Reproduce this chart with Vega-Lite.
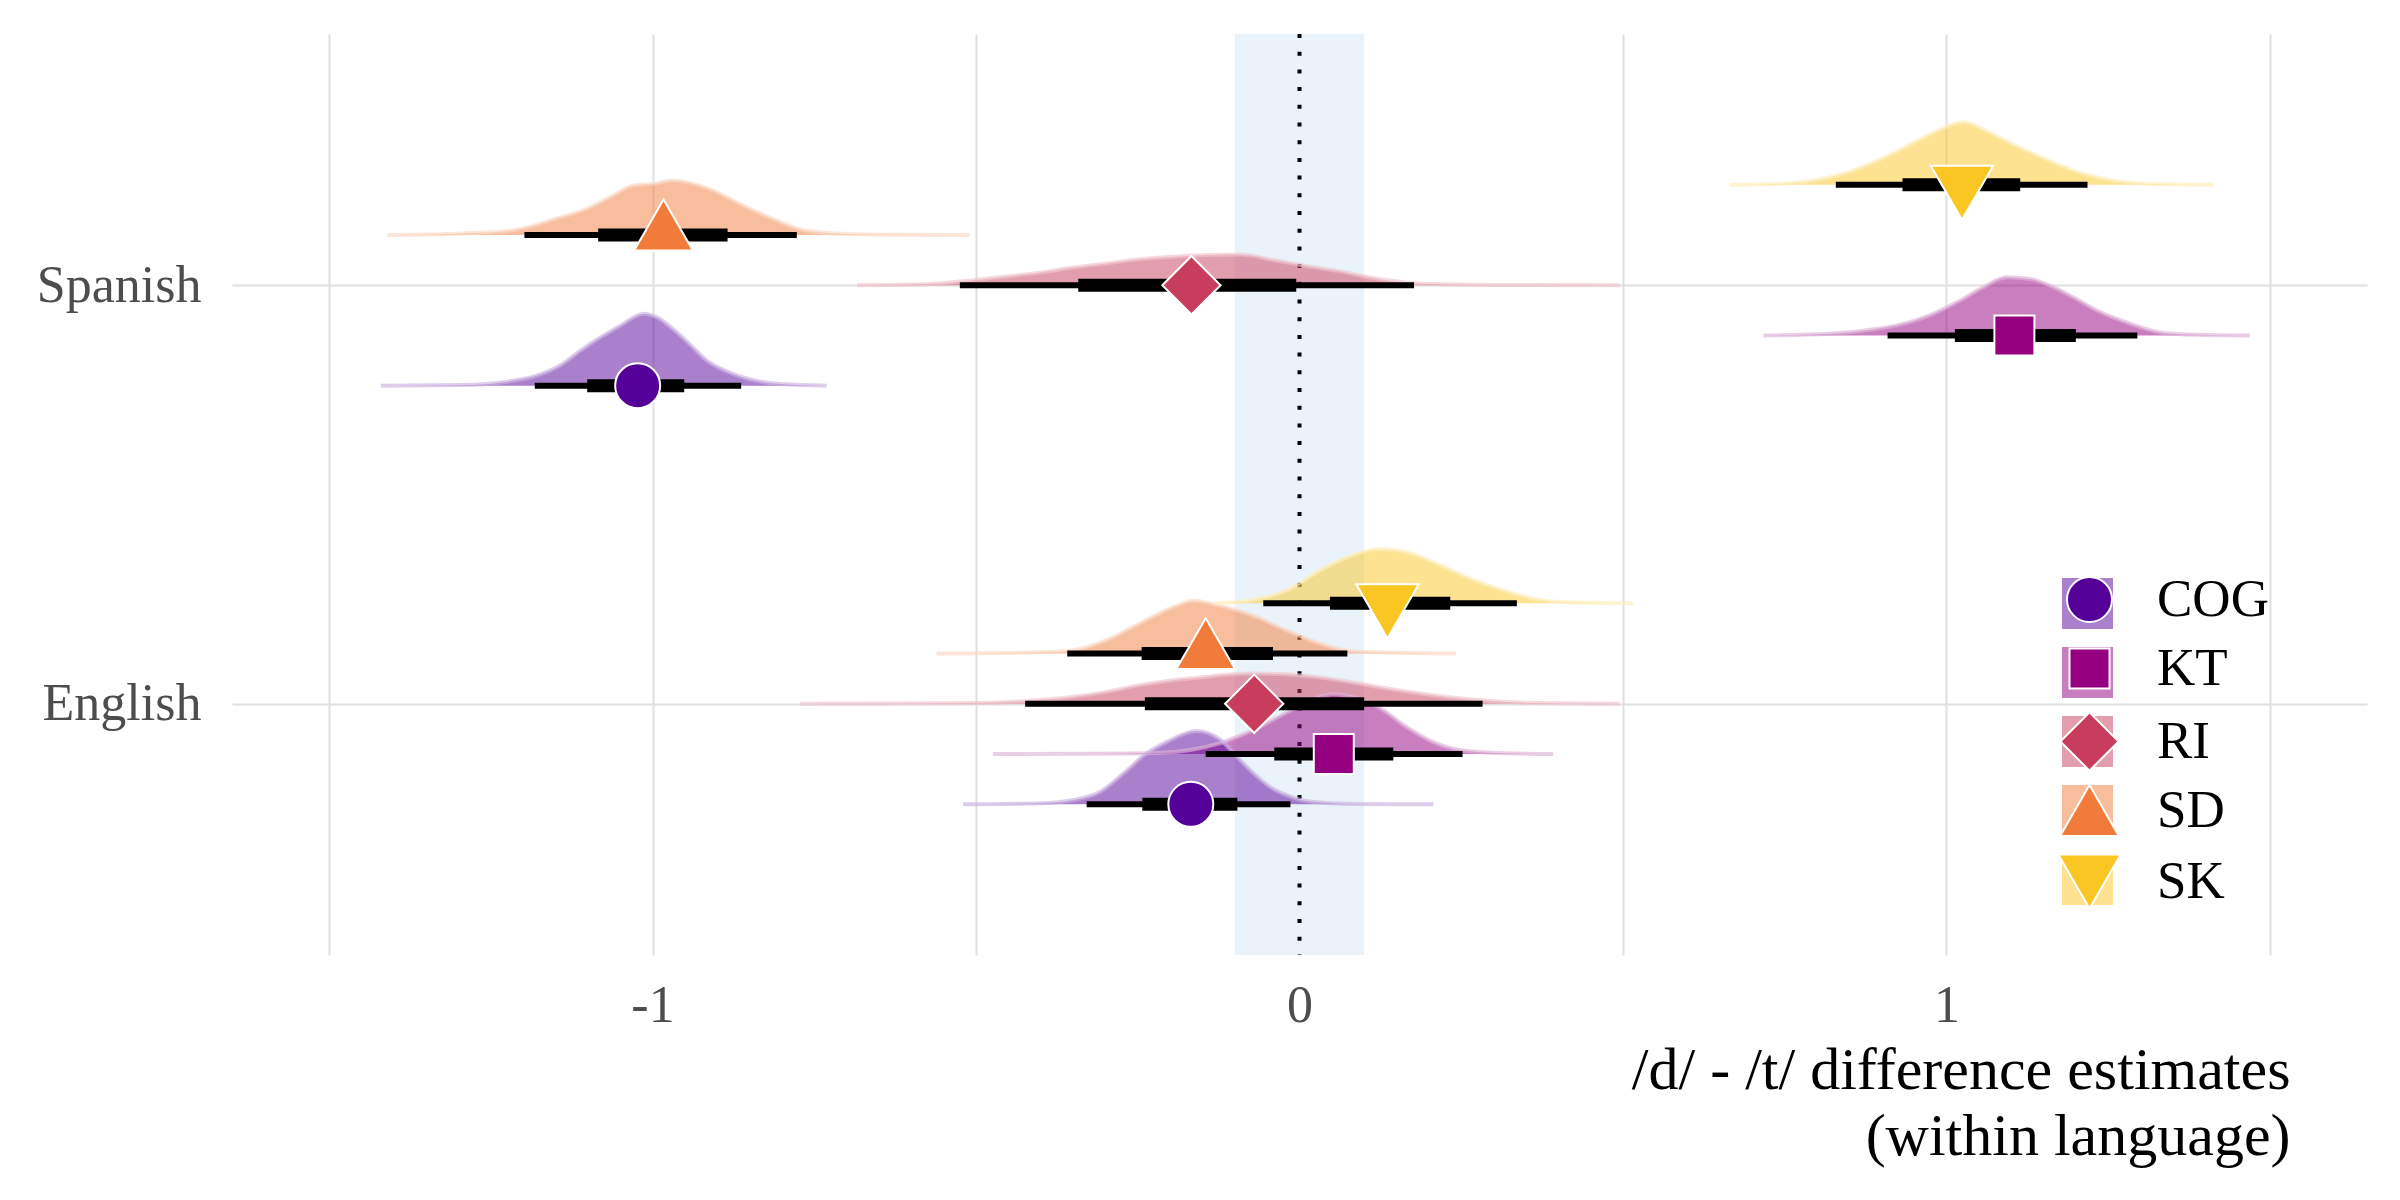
{
  "$schema": "https://vega.github.io/schema/vega-lite/v6.json",
  "width": 2135,
  "height": 921,
  "autosize": "none",
  "padding": {"left": 232, "top": 34, "right": 33, "bottom": 245},
  "background": "white",
  "config": {
    "view": {"stroke": null},
    "axis": {"domain": false, "ticks": false, "grid": true, "gridColor": "#e0e0e0", "gridWidth": 2, "labelFont": "Liberation Serif", "labelFontSize": 52, "labelColor": "#4d4d4d", "labelOverlap": false}
  },
  "datasets": {
    "dens": [
      {"language":"Spanish","group":"SD","x":-1.41,"h":0},{"language":"Spanish","group":"SD","x":-1.318,"h":0.0024},{"language":"Spanish","group":"SD","x":-1.231,"h":0.008},{"language":"Spanish","group":"SD","x":-1.189,"h":0.02},{"language":"Spanish","group":"SD","x":-1.143,"h":0.042},{"language":"Spanish","group":"SD","x":-1.102,"h":0.062},{"language":"Spanish","group":"SD","x":-1.061,"h":0.094},{"language":"Spanish","group":"SD","x":-1.03,"h":0.118},{"language":"Spanish","group":"SD","x":-0.999,"h":0.122},{"language":"Spanish","group":"SD","x":-0.968,"h":0.13},{"language":"Spanish","group":"SD","x":-0.937,"h":0.122},{"language":"Spanish","group":"SD","x":-0.906,"h":0.106},{"language":"Spanish","group":"SD","x":-0.865,"h":0.074},{"language":"Spanish","group":"SD","x":-0.813,"h":0.038},{"language":"Spanish","group":"SD","x":-0.762,"h":0.01},{"language":"Spanish","group":"SD","x":-0.7,"h":0.0024},{"language":"Spanish","group":"SD","x":-0.617,"h":0.0005},{"language":"Spanish","group":"SD","x":-0.51,"h":0},
      {"language":"Spanish","group":"COG","x":-1.42,"h":0},{"language":"Spanish","group":"COG","x":-1.292,"h":0.0016},{"language":"Spanish","group":"COG","x":-1.225,"h":0.0095},{"language":"Spanish","group":"COG","x":-1.179,"h":0.024},{"language":"Spanish","group":"COG","x":-1.143,"h":0.048},{"language":"Spanish","group":"COG","x":-1.112,"h":0.083},{"language":"Spanish","group":"COG","x":-1.081,"h":0.115},{"language":"Spanish","group":"COG","x":-1.05,"h":0.143},{"language":"Spanish","group":"COG","x":-1.024,"h":0.167},{"language":"Spanish","group":"COG","x":-1.014,"h":0.172},{"language":"Spanish","group":"COG","x":-0.993,"h":0.163},{"language":"Spanish","group":"COG","x":-0.968,"h":0.135},{"language":"Spanish","group":"COG","x":-0.942,"h":0.098},{"language":"Spanish","group":"COG","x":-0.916,"h":0.06},{"language":"Spanish","group":"COG","x":-0.885,"h":0.034},{"language":"Spanish","group":"COG","x":-0.844,"h":0.013},{"language":"Spanish","group":"COG","x":-0.802,"h":0.004},{"language":"Spanish","group":"COG","x":-0.731,"h":0},
      {"language":"Spanish","group":"RI","x":-0.684,"h":0},{"language":"Spanish","group":"RI","x":-0.62,"h":0.001},{"language":"Spanish","group":"RI","x":-0.556,"h":0.004},{"language":"Spanish","group":"RI","x":-0.504,"h":0.012},{"language":"Spanish","group":"RI","x":-0.453,"h":0.021},{"language":"Spanish","group":"RI","x":-0.401,"h":0.03},{"language":"Spanish","group":"RI","x":-0.35,"h":0.042},{"language":"Spanish","group":"RI","x":-0.298,"h":0.052},{"language":"Spanish","group":"RI","x":-0.247,"h":0.062},{"language":"Spanish","group":"RI","x":-0.195,"h":0.068},{"language":"Spanish","group":"RI","x":-0.143,"h":0.072},{"language":"Spanish","group":"RI","x":-0.092,"h":0.073},{"language":"Spanish","group":"RI","x":-0.04,"h":0.06},{"language":"Spanish","group":"RI","x":0.011,"h":0.046},{"language":"Spanish","group":"RI","x":0.063,"h":0.033},{"language":"Spanish","group":"RI","x":0.114,"h":0.017},{"language":"Spanish","group":"RI","x":0.166,"h":0.006},{"language":"Spanish","group":"RI","x":0.217,"h":0.0024},{"language":"Spanish","group":"RI","x":0.32,"h":0.0003},{"language":"Spanish","group":"RI","x":0.495,"h":0},
      {"language":"Spanish","group":"SK","x":0.665,"h":0},{"language":"Spanish","group":"SK","x":0.743,"h":0.0024},{"language":"Spanish","group":"SK","x":0.794,"h":0.01},{"language":"Spanish","group":"SK","x":0.846,"h":0.029},{"language":"Spanish","group":"SK","x":0.897,"h":0.06},{"language":"Spanish","group":"SK","x":0.949,"h":0.1},{"language":"Spanish","group":"SK","x":0.985,"h":0.128},{"language":"Spanish","group":"SK","x":1.026,"h":0.149},{"language":"Spanish","group":"SK","x":1.067,"h":0.124},{"language":"Spanish","group":"SK","x":1.103,"h":0.096},{"language":"Spanish","group":"SK","x":1.155,"h":0.06},{"language":"Spanish","group":"SK","x":1.206,"h":0.029},{"language":"Spanish","group":"SK","x":1.258,"h":0.01},{"language":"Spanish","group":"SK","x":1.309,"h":0.0024},{"language":"Spanish","group":"SK","x":1.412,"h":0},
      {"language":"Spanish","group":"KT","x":0.717,"h":0},{"language":"Spanish","group":"KT","x":0.82,"h":0.004},{"language":"Spanish","group":"KT","x":0.882,"h":0.0135},{"language":"Spanish","group":"KT","x":0.923,"h":0.024},{"language":"Spanish","group":"KT","x":0.974,"h":0.048},{"language":"Spanish","group":"KT","x":1.016,"h":0.079},{"language":"Spanish","group":"KT","x":1.057,"h":0.115},{"language":"Spanish","group":"KT","x":1.093,"h":0.139},{"language":"Spanish","group":"KT","x":1.129,"h":0.135},{"language":"Spanish","group":"KT","x":1.16,"h":0.119},{"language":"Spanish","group":"KT","x":1.196,"h":0.091},{"language":"Spanish","group":"KT","x":1.232,"h":0.06},{"language":"Spanish","group":"KT","x":1.284,"h":0.028},{"language":"Spanish","group":"KT","x":1.335,"h":0.006},{"language":"Spanish","group":"KT","x":1.387,"h":0.0016},{"language":"Spanish","group":"KT","x":1.469,"h":0},
      {"language":"English","group":"SD","x":-0.561,"h":0},{"language":"English","group":"SD","x":-0.401,"h":0.003},{"language":"English","group":"SD","x":-0.35,"h":0.008},{"language":"English","group":"SD","x":-0.298,"h":0.032},{"language":"English","group":"SD","x":-0.247,"h":0.072},{"language":"English","group":"SD","x":-0.195,"h":0.111},{"language":"English","group":"SD","x":-0.163,"h":0.126},{"language":"English","group":"SD","x":-0.123,"h":0.114},{"language":"English","group":"SD","x":-0.072,"h":0.091},{"language":"English","group":"SD","x":-0.019,"h":0.055},{"language":"English","group":"SD","x":0.032,"h":0.024},{"language":"English","group":"SD","x":0.083,"h":0.0055},{"language":"English","group":"SD","x":0.154,"h":0.0017},{"language":"English","group":"SD","x":0.242,"h":0},
      {"language":"English","group":"RI","x":-0.772,"h":0},{"language":"English","group":"RI","x":-0.505,"h":0.0017},{"language":"English","group":"RI","x":-0.427,"h":0.0064},{"language":"English","group":"RI","x":-0.35,"h":0.0167},{"language":"English","group":"RI","x":-0.298,"h":0.0286},{"language":"English","group":"RI","x":-0.247,"h":0.0446},{"language":"English","group":"RI","x":-0.196,"h":0.0565},{"language":"English","group":"RI","x":-0.143,"h":0.0644},{"language":"English","group":"RI","x":-0.123,"h":0.0684},{"language":"English","group":"RI","x":-0.071,"h":0.0722},{"language":"English","group":"RI","x":-0.02,"h":0.0708},{"language":"English","group":"RI","x":0.032,"h":0.0627},{"language":"English","group":"RI","x":0.083,"h":0.0508},{"language":"English","group":"RI","x":0.135,"h":0.0365},{"language":"English","group":"RI","x":0.186,"h":0.0246},{"language":"English","group":"RI","x":0.238,"h":0.0143},{"language":"English","group":"RI","x":0.289,"h":0.0072},{"language":"English","group":"RI","x":0.367,"h":0.0017},{"language":"English","group":"RI","x":0.495,"h":0},
      {"language":"English","group":"KT","x":-0.474,"h":0},{"language":"English","group":"KT","x":-0.308,"h":0.0007},{"language":"English","group":"KT","x":-0.222,"h":0.0024},{"language":"English","group":"KT","x":-0.169,"h":0.0095},{"language":"English","group":"KT","x":-0.123,"h":0.026},{"language":"English","group":"KT","x":-0.072,"h":0.057},{"language":"English","group":"KT","x":-0.019,"h":0.1},{"language":"English","group":"KT","x":0.021,"h":0.131},{"language":"English","group":"KT","x":0.052,"h":0.143},{"language":"English","group":"KT","x":0.083,"h":0.136},{"language":"English","group":"KT","x":0.124,"h":0.11},{"language":"English","group":"KT","x":0.166,"h":0.064},{"language":"English","group":"KT","x":0.206,"h":0.029},{"language":"English","group":"KT","x":0.248,"h":0.0095},{"language":"English","group":"KT","x":0.315,"h":0.0017},{"language":"English","group":"KT","x":0.392,"h":0},
      {"language":"English","group":"COG","x":-0.52,"h":0},{"language":"English","group":"COG","x":-0.401,"h":0.0024},{"language":"English","group":"COG","x":-0.35,"h":0.0103},{"language":"English","group":"COG","x":-0.308,"h":0.03},{"language":"English","group":"COG","x":-0.272,"h":0.074},{"language":"English","group":"COG","x":-0.236,"h":0.122},{"language":"English","group":"COG","x":-0.205,"h":0.149},{"language":"English","group":"COG","x":-0.159,"h":0.175},{"language":"English","group":"COG","x":-0.123,"h":0.155},{"language":"English","group":"COG","x":-0.097,"h":0.114},{"language":"English","group":"COG","x":-0.071,"h":0.074},{"language":"English","group":"COG","x":-0.046,"h":0.042},{"language":"English","group":"COG","x":-0.02,"h":0.022},{"language":"English","group":"COG","x":0.016,"h":0.0064},{"language":"English","group":"COG","x":0.083,"h":0.0007},{"language":"English","group":"COG","x":0.207,"h":0},
      {"language":"English","group":"SK","x":-0.131,"h":0},{"language":"English","group":"SK","x":-0.071,"h":0.0088},{"language":"English","group":"SK","x":-0.02,"h":0.031},{"language":"English","group":"SK","x":0.032,"h":0.079},{"language":"English","group":"SK","x":0.073,"h":0.11},{"language":"English","group":"SK","x":0.124,"h":0.13},{"language":"English","group":"SK","x":0.166,"h":0.122},{"language":"English","group":"SK","x":0.212,"h":0.095},{"language":"English","group":"SK","x":0.264,"h":0.059},{"language":"English","group":"SK","x":0.315,"h":0.031},{"language":"English","group":"SK","x":0.367,"h":0.0095},{"language":"English","group":"SK","x":0.418,"h":0.0024},{"language":"English","group":"SK","x":0.516,"h":0}
    ],
    "summ": [
      {"language":"Spanish","group":"COG","med":-1.023,"lo66":-1.101,"hi66":-0.951,"lo95":-1.182,"hi95":-0.863},
      {"language":"Spanish","group":"KT","med":1.105,"lo66":1.013,"hi66":1.2,"lo95":0.909,"hi95":1.295},
      {"language":"Spanish","group":"RI","med":-0.167,"lo66":-0.342,"hi66":-0.005,"lo95":-0.525,"hi95":0.177},
      {"language":"Spanish","group":"SD","med":-0.983,"lo66":-1.084,"hi66":-0.884,"lo95":-1.198,"hi95":-0.777},
      {"language":"Spanish","group":"SK","med":1.024,"lo66":0.932,"hi66":1.114,"lo95":0.829,"hi95":1.218},
      {"language":"English","group":"COG","med":-0.168,"lo66":-0.243,"hi66":-0.096,"lo95":-0.329,"hi95":-0.014},
      {"language":"English","group":"KT","med":0.053,"lo66":-0.039,"hi66":0.145,"lo95":-0.145,"hi95":0.252},
      {"language":"English","group":"RI","med":-0.07,"lo66":-0.239,"hi66":0.1,"lo95":-0.424,"hi95":0.283},
      {"language":"English","group":"SD","med":-0.145,"lo66":-0.244,"hi66":-0.041,"lo95":-0.359,"hi95":0.074},
      {"language":"English","group":"SK","med":0.136,"lo66":0.047,"hi66":0.233,"lo95":-0.056,"hi95":0.336}
    ],
    "rope": [{"lo": -0.1, "hi": 0.1, "ref": 0}]
  },
  "layer": [
    {
      "data": {"name": "rope"},
      "mark": {"type": "rect", "color": "#eaf3fa"},
      "encoding": {
        "x": {"field": "lo", "type": "quantitative", "scale": {"domain": [-1.65, 1.65], "nice": false, "zero": false},
              "axis": {"values": [-1.5,-1,-0.5,0,0.5,1,1.5], "labelExpr": "datum.value === -1 ? '-1' : datum.value === 0 ? '0' : datum.value === 1 ? '1' : ''", "title": ["/d/ - /t/ difference estimates", "(within language)"], "titleFont": "Liberation Serif", "titleFontSize": 60, "titleFontWeight": "normal", "titleColor": "black", "titleAlign": "right", "titleAnchor": "end", "titleX": 2058, "titleY": 133, "titleBaseline": "alphabetic", "titleLineHeight": 66, "labelPadding": 25, "grid": true}},
        "x2": {"field": "hi"}
      }
    },
    {
      "data": {"name": "rope"},
      "mark": {"type": "rule", "color": "black", "strokeWidth": 4, "strokeDash": [4, 13.7]},
      "encoding": {
        "x": {"field": "ref", "type": "quantitative"}
      }
    },
    {
      "data": {"name": "dens"},
      "transform": [
        {"calculate": "(datum.language === 'Spanish' ? 2 : 1) + (indexof(['COG','KT','RI','SD','SK'], datum.group) - 2) * 0.12", "as": "base"},
        {"calculate": "datum.base + datum.h", "as": "top"}
      ],
      "layer": [
        {
          "mark": {"type": "area", "opacity": 0.5, "interpolate": "monotone"},
          "encoding": {
            "x": {"field": "x", "type": "quantitative"},
            "y": {"field": "top", "type": "quantitative", "scale": {"domain": [0.4, 2.6], "nice": false, "zero": false},
                  "axis": {"values": [1, 2], "labelExpr": "datum.value === 2 ? 'Spanish' : 'English'", "title": null, "labelPadding": 31, "grid": true}},
            "y2": {"field": "base"},
            "color": {"field": "group", "type": "nominal",
                      "scale": {"range": ["#550099", "#94007f", "#c83d5b", "#f07b3a", "#f9c623"]},
                      "legend": {"orient": "none", "legendX": 1830, "legendY": 544, "title": null, "symbolType": "square", "symbolSize": 2601, "symbolOpacity": 0.5, "symbolStrokeWidth": 0, "labelExpr": "''", "labelFontSize": 1, "rowPadding": 18, "labelOffset": 35, "padding": 0, "gridAlign": "all"}},
            "detail": {"field": "language"}
          }
        },
        {
          "mark": {"type": "line", "strokeWidth": 4, "interpolate": "monotone", "strokeOpacity": 0.65},
          "encoding": {
            "x": {"field": "x", "type": "quantitative"},
            "y": {"field": "top", "type": "quantitative"},
            "stroke": {"field": "group", "type": "nominal", "scale": {"range": ["#ccb3e0", "#dfb3d9", "#eec5ce", "#fad7c4", "#fdeebd"]}, "legend": null},
            "detail": {"field": "language"}
          }
        }
      ]
    },
    {
      "data": {"name": "summ"},
      "transform": [
        {"calculate": "(datum.language === 'Spanish' ? 2 : 1) + (indexof(['COG','KT','RI','SD','SK'], datum.group) - 2) * 0.12", "as": "base"}
      ],
      "layer": [
        {
          "mark": {"type": "rule", "color": "black", "strokeWidth": 6, "strokeCap": "butt"},
          "encoding": {
            "x": {"field": "lo95", "type": "quantitative"},
            "x2": {"field": "hi95"},
            "y": {"field": "base", "type": "quantitative"}
          }
        },
        {
          "mark": {"type": "rule", "color": "black", "strokeWidth": 13, "strokeCap": "butt"},
          "encoding": {
            "x": {"field": "lo66", "type": "quantitative"},
            "x2": {"field": "hi66"},
            "y": {"field": "base", "type": "quantitative"}
          }
        },
        {
          "transform": [{"filter": "datum.group !== 'SD' && datum.group !== 'SK'"}],
          "mark": {"type": "point", "filled": true, "stroke": "white", "strokeWidth": 2, "opacity": 1},
          "encoding": {
            "x": {"field": "med", "type": "quantitative"},
            "y": {"field": "base", "type": "quantitative"},
            "fill": {"field": "group", "type": "nominal",
                     "scale": {"domain": ["COG","KT","RI","SD","SK"], "range": ["#550099", "#94007f", "#c83d5b", "#f07b3a", "#f9c623"]},
                     "legend": {"orient": "none", "legendX": 1825, "legendY": 539, "title": null, "labelFontSize": 53, "labelFont": "Liberation Serif", "labelColor": "black", "symbolStrokeColor": "white", "symbolStrokeWidth": 2, "rowPadding": 2, "labelOffset": 35, "padding": 0, "gridAlign": "all"}},
            "shape": {"field": "group", "type": "nominal", "scale": {"domain": ["COG","KT","RI","SD","SK"], "range": ["circle", "square", "diamond", "triangle-up", "triangle-down"]}},
            "size": {"field": "group", "type": "nominal", "scale": {"type": "ordinal", "domain": ["COG","KT","RI","SD","SK"], "range": [2025, 1600, 3400, 3450, 3900]}}
          }
        },
        {
          "transform": [{"filter": "datum.group === 'SD'"}],
          "mark": {"type": "point", "filled": true, "stroke": "white", "strokeWidth": 2, "opacity": 1, "yOffset": -10},
          "encoding": {
            "x": {"field": "med", "type": "quantitative"},
            "y": {"field": "base", "type": "quantitative"},
            "fill": {"field": "group", "type": "nominal", "scale": {"domain": ["COG","KT","RI","SD","SK"], "range": ["#550099", "#94007f", "#c83d5b", "#f07b3a", "#f9c623"]}},
            "shape": {"field": "group", "type": "nominal", "scale": {"domain": ["COG","KT","RI","SD","SK"], "range": ["circle", "square", "diamond", "triangle-up", "triangle-down"]}},
            "size": {"field": "group", "type": "nominal", "scale": {"type": "ordinal", "domain": ["COG","KT","RI","SD","SK"], "range": [2025, 1600, 3400, 3450, 3900]}}
          }
        },
        {
          "transform": [{"filter": "datum.group === 'SK'"}],
          "mark": {"type": "point", "filled": true, "stroke": "white", "strokeWidth": 2, "opacity": 1, "yOffset": 8},
          "encoding": {
            "x": {"field": "med", "type": "quantitative"},
            "y": {"field": "base", "type": "quantitative"},
            "fill": {"field": "group", "type": "nominal", "scale": {"domain": ["COG","KT","RI","SD","SK"], "range": ["#550099", "#94007f", "#c83d5b", "#f07b3a", "#f9c623"]}},
            "shape": {"field": "group", "type": "nominal", "scale": {"domain": ["COG","KT","RI","SD","SK"], "range": ["circle", "square", "diamond", "triangle-up", "triangle-down"]}},
            "size": {"field": "group", "type": "nominal", "scale": {"type": "ordinal", "domain": ["COG","KT","RI","SD","SK"], "range": [2025, 1600, 3400, 3450, 3900]}}
          }
        }
      ]
    }
  ]
}
